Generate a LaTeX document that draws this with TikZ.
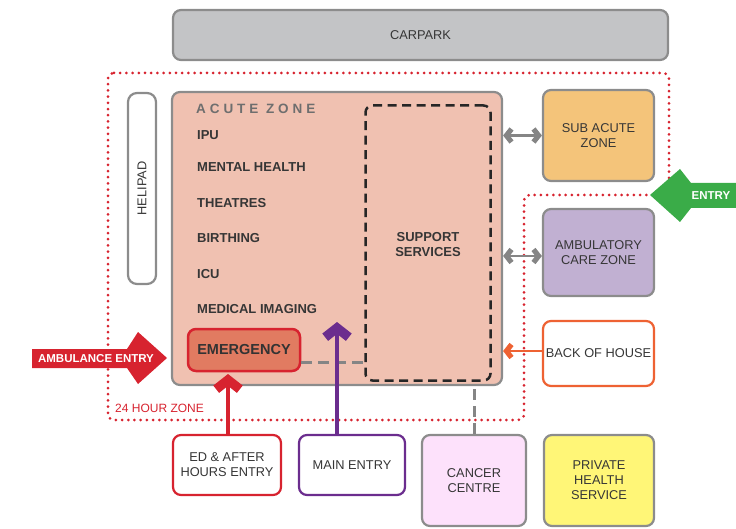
\documentclass[tikz,border=0pt]{standalone}
\usepackage{fontspec}
\setmainfont{Liberation Sans}
\usetikzlibrary{arrows.meta}

\definecolor{edgegray}{HTML}{8C8C8C}
\definecolor{ink}{HTML}{363636}
\definecolor{titlegray}{HTML}{6E6E6E}
\definecolor{parkgray}{HTML}{C3C4C6}
\definecolor{acutefill}{HTML}{F0C1B1}
\definecolor{emfill}{HTML}{E17B61}
\definecolor{zonered}{HTML}{D7232F}
\definecolor{entrygreen}{HTML}{3AAC48}
\definecolor{mainpurple}{HTML}{6B2D8E}
\definecolor{bohorange}{HTML}{EE6233}
\definecolor{subfill}{HTML}{F4C47A}
\definecolor{ambfill}{HTML}{C1B0D2}
\definecolor{cancerfill}{HTML}{FDE1FB}
\definecolor{privfill}{HTML}{FFF677}
\definecolor{linkgray}{HTML}{858585}

\newcommand{\lblfont}{\fontsize{12.8}{15}\selectfont}
\newcommand{\itemfont}{\fontsize{13}{15}\selectfont\bfseries}

\begin{document}
\begin{tikzpicture}[x=1pt,y=-1pt,
  zone/.style={draw=edgegray, line width=2.2pt, rounded corners=8pt,
    align=center, text=ink, font=\lblfont, inner sep=0pt},
  entrybox/.style={zone, fill=white},
  item/.style={anchor=west, text=ink, font=\itemfont, inner sep=0pt},
  zoneline/.style={draw=zonered, line width=3pt, line cap=round,
    dash pattern=on 0pt off 6.2pt, rounded corners=6pt},
  link/.style={draw=linkgray, line width=3pt, dash pattern=on 11pt off 6pt},
  arrowtext/.style={text=white, font=\fontsize{11.5}{13}\selectfont\bfseries, inner sep=0pt},
  % chevron arrow head, tip at the origin, pointing up the page
  chevron/.pic={\fill (0,0) -- (14,11) -- (8.5,18) -- (2,12.9) -- (-2,12.9) -- (-8.5,18) -- (-14,11) -- cycle;},
  bighead/.style={scale=1.05},
  smallhead/.style={scale=0.58}
]
\useasboundingbox (0,0) rectangle (736,529);

% 24 hour zone boundary
\draw[zoneline] (108,73) -- (669,73) -- (669,195) -- (524,195) -- (524,420) -- (108,420) -- cycle;
\node[anchor=west, text=zonered, font=\fontsize{12}{14}\selectfont, inner sep=0pt] (hourlabel) at (115,408) {24 HOUR ZONE};

% site blocks
\node[zone, fill=parkgray, minimum width=495, minimum height=50] (carpark) at (420.5,35) {CARPARK};
\node[entrybox, rotate=90, minimum width=191, minimum height=28, rounded corners=9pt] (helipad) at (142,188.5) {HELIPAD};
\node[zone, fill=acutefill, minimum width=330, minimum height=293] (acute) at (337,238.5) {};
\node[draw=black!85, line width=2.5pt, dash pattern=on 9pt off 5.5pt, rounded corners=7pt,
      minimum width=125, minimum height=275, inner sep=0pt] (support) at (428,243) {};
\node[align=center, text=ink, font=\itemfont, inner sep=0pt] (supportlabel) at (428,245) {SUPPORT\\SERVICES};

\node[anchor=west, text=titlegray, inner sep=0pt,
      font=\fontsize{13.5}{15}\selectfont\bfseries\addfontfeature{LetterSpace=29}] (acutetitle) at (196,109) {ACUTE ZONE};
\node[item] (ipu) at (197,135) {IPU};
\node[item] (mental) at (197,167) {MENTAL HEALTH};
\node[item] (theatres) at (197,203) {THEATRES};
\node[item] (birthing) at (197,238) {BIRTHING};
\node[item] (icu) at (197,274) {ICU};
\node[item] (imaging) at (197,309) {MEDICAL IMAGING};

\node[draw=zonered, fill=emfill, line width=2.5pt, rounded corners=8pt, minimum width=112, minimum height=42,
      inner sep=0pt, text=black!80, font=\fontsize{14.5}{16}\selectfont\bfseries] (emergency) at (244,350) {EMERGENCY};

\node[zone, fill=subfill, minimum width=111, minimum height=91] (subacute) at (598.5,135.5) {SUB ACUTE\\ZONE};
\node[zone, fill=ambfill, minimum width=111, minimum height=87] (ambulatory) at (598.5,252.5) {AMBULATORY\\CARE ZONE};
\node[entrybox, draw=bohorange, minimum width=111, minimum height=65] (backhouse) at (598.5,353.5) {BACK OF HOUSE};

\node[entrybox, draw=zonered, minimum width=108, minimum height=60] (edentry) at (227,465) {ED \& AFTER\\HOURS ENTRY};
\node[entrybox, draw=mainpurple, minimum width=106, minimum height=60] (mainentry) at (352,465) {MAIN ENTRY};
\node[zone, fill=cancerfill, minimum width=104, minimum height=91] (cancer) at (474,480.5) {CANCER\\CENTRE};
\node[zone, fill=privfill, minimum width=110, minimum height=91] (private) at (599,480.5) {PRIVATE\\HEALTH\\SERVICE};

% dashed service links
\coordinate (emlink) at (301,362);
\draw[link] (emlink) -- (support.west |- emlink);
\draw[link] (cancer.north) -- (acute.south -| cancer.north);

% two-way links to the sub acute and ambulatory zones
\coordinate (subleft) at (acute.east |- subacute.west);
\coordinate (ambleft) at (acute.east |- 0,256);
\coordinate (ambright) at (ambulatory.west |- 0,256);
\draw[draw=linkgray, line width=2.4pt, shorten <=6pt, shorten >=6pt] (subleft) -- (subacute.west);
\pic[fill=linkgray, smallhead, rotate=90] at (subleft) {chevron};
\pic[fill=linkgray, smallhead, rotate=-90] at (subacute.west) {chevron};
\draw[draw=linkgray, line width=2.4pt, shorten <=6pt, shorten >=6pt] (ambleft) -- (ambright);
\pic[fill=linkgray, smallhead, rotate=90] at (ambleft) {chevron};
\pic[fill=linkgray, smallhead, rotate=-90] at (ambright) {chevron};

% back of house service link
\coordinate (bohtip) at (acute.east |- 0,351);
\draw[draw=bohorange, line width=2.5pt, shorten >=6pt] (backhouse.west |- bohtip) -- (bohtip);
\pic[fill=bohorange, smallhead, rotate=90] at (bohtip) {chevron};

% entry arrows
\coordinate (edtip) at (228,374);
\draw[draw=zonered, line width=3.8pt, shorten >=12pt] (edentry.north -| edtip) -- (edtip);
\pic[fill=zonered, bighead] at (edtip) {chevron};
\coordinate (maintip) at (337,322);
\draw[draw=mainpurple, line width=3.8pt, shorten >=12pt] (mainentry.north -| maintip) -- (maintip);
\pic[fill=mainpurple, bighead] at (maintip) {chevron};

% ambulance entry
\fill[zonered] (32,349) -- (127,349) -- (138,332) -- (167,358) -- (138,384) -- (127,368) -- (32,368) -- cycle;
\node[arrowtext] (ambulance) at (96,358.5) {AMBULANCE ENTRY};

% public entry
\fill[entrygreen] (650,195) -- (680,169) -- (691,183) -- (736,183) -- (736,208) -- (691,208) -- (680,222) -- cycle;
\node[arrowtext] (entry) at (711,195.5) {ENTRY};
\end{tikzpicture}
\end{document}
